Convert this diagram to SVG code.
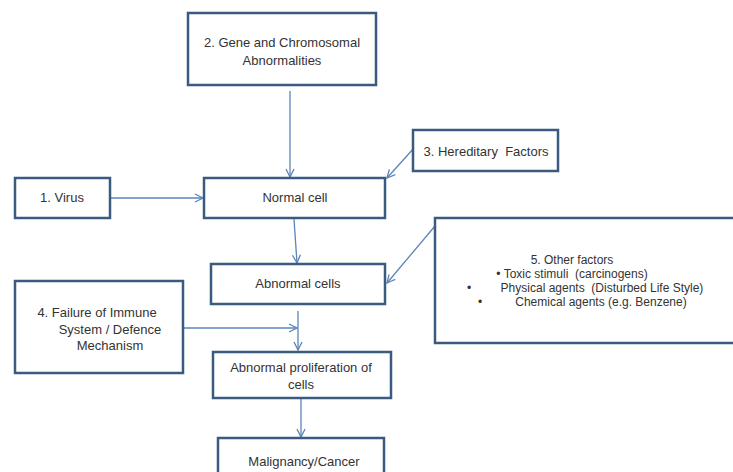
<svg xmlns="http://www.w3.org/2000/svg" width="733" height="472" viewBox="0 0 733 472">
<style>
.box{fill:#ffffff;stroke:#3b5a80;stroke-width:2.5}
.t{font-family:"Liberation Sans",Arial,sans-serif;font-size:13px;fill:#333333;text-anchor:middle;white-space:pre}
.s{font-size:12px}
.c{fill:none;stroke:#5b84b8;stroke-width:1.3}
</style>
<defs>
<marker id="ah" viewBox="0 0 10 10" refX="9" refY="5" markerWidth="10" markerHeight="10" markerUnits="userSpaceOnUse" orient="auto">
<path d="M1,1 L9,5 L1,9" fill="none" stroke="#5b84b8" stroke-width="1.3"/>
</marker>
</defs>
<rect width="733" height="472" fill="#ffffff"/>
<g id="connectors">
<line class="c" x1="290" y1="91" x2="290" y2="177" marker-end="url(#ah)"/>
<line class="c" x1="110" y1="198" x2="203" y2="198" marker-end="url(#ah)"/>
<line class="c" x1="414" y1="148" x2="387" y2="178" marker-end="url(#ah)"/>
<line class="c" x1="294" y1="219" x2="297" y2="263" marker-end="url(#ah)"/>
<line class="c" x1="435" y1="226" x2="387" y2="283" marker-end="url(#ah)"/>
<line class="c" x1="183" y1="328" x2="297" y2="328" marker-end="url(#ah)"/>
<line class="c" x1="298" y1="311" x2="298" y2="350" marker-end="url(#ah)"/>
<line class="c" x1="301" y1="398" x2="301" y2="437" marker-end="url(#ah)"/>
</g>
<g id="gene">
<rect class="box" x="188" y="13" width="188" height="72"/>
<text class="t" x="282" y="47">2. Gene and Chromosomal</text>
<text class="t" x="282" y="65">Abnormalities</text>
</g>
<g id="virus">
<rect class="box" x="15" y="178" width="95" height="40"/>
<text class="t" x="62" y="202">1. Virus</text>
</g>
<g id="normal">
<rect class="box" x="204" y="178" width="181" height="40"/>
<text class="t" x="295" y="202">Normal cell</text>
</g>
<g id="hereditary">
<rect class="box" x="413" y="130" width="145" height="41"/>
<text class="t" x="486" y="156">3. Hereditary  Factors</text>
</g>
<g id="other">
<rect class="box" x="435" y="218" width="305" height="125"/>
<text class="t s" x="572" y="264">5. Other factors</text>
<text class="t s" x="572" y="278">• Toxic stimuli  (carcinogens)</text>
<text class="t s" x="469" y="292">•</text>
<text class="t s" x="602" y="292">Physical agents  (Disturbed Life Style)</text>
<text class="t s" x="480" y="306">•</text>
<text class="t s" x="601" y="306">Chemical agents (e.g. Benzene)</text>
</g>
<g id="abnormal">
<rect class="box" x="211" y="264" width="174" height="40"/>
<text class="t" x="298" y="288">Abnormal cells</text>
</g>
<g id="failure">
<rect class="box" x="15" y="281" width="168" height="92"/>
<text class="t" x="97" y="317">4. Failure of Immune</text>
<text class="t" x="110" y="334">System / Defence</text>
<text class="t" x="110" y="350">Mechanism</text>
</g>
<g id="proliferation">
<rect class="box" x="213" y="352" width="178" height="46"/>
<text class="t" x="301" y="372">Abnormal proliferation of</text>
<text class="t" x="301" y="389">cells</text>
</g>
<g id="malignancy">
<rect class="box" x="218" y="438" width="166" height="40"/>
<text class="t" x="304" y="466">Malignancy/Cancer</text>
</g>
</svg>
